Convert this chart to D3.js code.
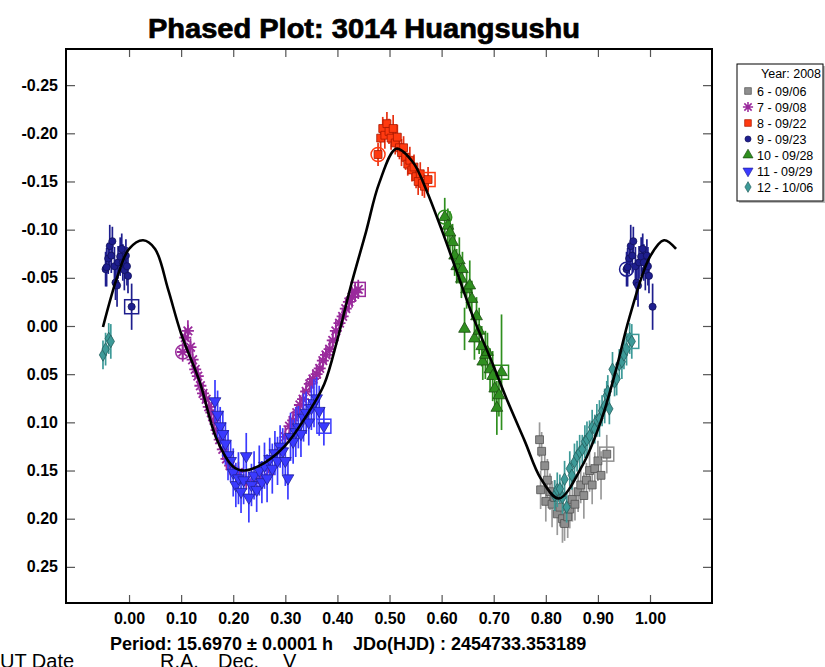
<!DOCTYPE html>
<html>
<head>
<meta charset="utf-8">
<script src="https://cdn.jsdelivr.net/npm/d3@7"></script>
<style>
  body { margin: 0; background: #fff; }
  svg { display: block; font-family: "Liberation Sans", Arial, sans-serif; }
</style>
</head>
<body>
<svg id="chart" width="825" height="667"></svg>
<script>
var xTicks = [0.00, 0.10, 0.20, 0.30, 0.40, 0.50, 0.60, 0.70, 0.80, 0.90, 1.00];
var yTicks = [-0.25, -0.20, -0.15, -0.10, -0.05, 0.00, 0.05, 0.10, 0.15, 0.20, 0.25];

var sessions = ["6 - 09/06", "7 - 09/08", "8 - 09/22", "9 - 09/23", "10 - 09/28", "11 - 09/29", "12 - 10/06"];

// [phase, mag, error]
var s6 = [[0.788,0.118,0.018],[0.790,0.170,0.020],[0.792,0.130,0.020],[0.798,0.145,0.017],[0.800,0.182,0.021],
  [0.803,0.160,0.022],[0.808,0.172,0.019],[0.812,0.185,0.024],[0.817,0.178,0.018],[0.822,0.195,0.022],
  [0.827,0.188,0.020],[0.832,0.200,0.025],[0.836,0.205,0.018],[0.842,0.198,0.022],[0.846,0.190,0.020],
  [0.851,0.180,0.023],[0.856,0.185,0.017],[0.862,0.172,0.021],[0.867,0.165,0.019],[0.873,0.176,0.024],
  [0.878,0.160,0.018],[0.884,0.150,0.022],[0.889,0.165,0.020],[0.894,0.148,0.017],[0.900,0.140,0.021],
  [0.906,0.155,0.025],[0.917,0.133,0.020]];

var s7 = [[0.103,0.027,0.010],[0.108,0.012,0.010],[0.113,0.005,0.011],[0.118,0.022,0.009],[0.122,0.035,0.010],
  [0.127,0.045,0.010],[0.132,0.052,0.009],[0.137,0.062,0.011],[0.142,0.070,0.010],[0.148,0.076,0.009],
  [0.153,0.084,0.010],[0.158,0.090,0.011],[0.163,0.098,0.010],[0.168,0.108,0.009],[0.174,0.118,0.010],
  [0.180,0.128,0.011],[0.187,0.138,0.010],[0.194,0.145,0.010],[0.210,0.152,0.011],[0.225,0.160,0.010],
  [0.240,0.163,0.010],[0.255,0.158,0.011],[0.270,0.150,0.010],[0.290,0.128,0.010],[0.300,0.115,0.011],
  [0.308,0.104,0.010],[0.315,0.098,0.010],[0.322,0.090,0.009],[0.328,0.082,0.010],[0.334,0.076,0.011],
  [0.340,0.068,0.010],[0.347,0.060,0.009],[0.353,0.055,0.010],[0.360,0.050,0.010],[0.366,0.044,0.011],
  [0.372,0.036,0.010],[0.378,0.030,0.009],[0.385,0.024,0.010],[0.391,0.015,0.010],[0.397,0.005,0.011],
  [0.404,-0.003,0.010],[0.410,-0.010,0.009],[0.416,-0.018,0.010],[0.422,-0.025,0.010],[0.428,-0.030,0.011],
  [0.434,-0.035,0.010],[0.440,-0.038,0.010]];

var s8 = [[0.478,-0.178,0.012],[0.483,-0.195,0.013],[0.487,-0.205,0.012],[0.491,-0.198,0.014],[0.495,-0.210,0.012],
  [0.499,-0.202,0.013],[0.503,-0.195,0.012],[0.507,-0.205,0.014],[0.511,-0.190,0.012],[0.515,-0.196,0.013],
  [0.519,-0.185,0.012],[0.523,-0.180,0.014],[0.527,-0.185,0.012],[0.531,-0.175,0.013],[0.535,-0.168,0.012],
  [0.539,-0.172,0.014],[0.543,-0.162,0.012],[0.547,-0.165,0.013],[0.551,-0.155,0.012],[0.555,-0.150,0.014],
  [0.559,-0.158,0.012],[0.563,-0.148,0.013],[0.567,-0.145,0.012],[0.574,-0.152,0.013]];

var s9 = [[0.955,-0.059,0.018],[0.957,-0.061,0.020],[0.960,-0.070,0.016],[0.963,-0.083,0.022],[0.966,-0.073,0.018],
  [0.968,-0.088,0.015],[0.972,-0.062,0.020],[0.974,-0.045,0.018],[0.977,-0.042,0.022],[0.979,-0.066,0.017],
  [0.983,-0.072,0.020],[0.986,-0.080,0.016],[0.988,-0.066,0.019],[0.991,-0.058,0.021],[0.994,-0.073,0.017],
  [0.996,-0.062,0.020],[0.998,-0.052,0.018],[0.005,-0.020,0.024]];

var s10 = [[0.606,-0.113,0.020],[0.612,-0.104,0.018],[0.616,-0.097,0.022],[0.621,-0.087,0.019],[0.625,-0.073,0.021],
  [0.629,-0.062,0.018],[0.634,-0.068,0.024],[0.638,-0.049,0.020],[0.640,-0.059,0.018],[0.644,0.003,0.022],
  [0.648,-0.038,0.020],[0.654,-0.042,0.026],[0.658,-0.028,0.019],[0.663,0.013,0.022],[0.667,-0.010,0.020],
  [0.672,0.005,0.024],[0.677,0.021,0.021],[0.679,0.037,0.019],[0.684,0.030,0.025],[0.688,0.027,0.020],
  [0.693,0.045,0.022],[0.698,0.052,0.026],[0.702,0.065,0.020],[0.706,0.085,0.028],[0.710,0.072,0.022],
  [0.715,0.048,0.060]];

var s11 = [[0.165,0.078,0.022],[0.170,0.092,0.025],[0.175,0.104,0.020],[0.180,0.112,0.024],[0.185,0.122,0.022],
  [0.190,0.134,0.026],[0.195,0.140,0.021],[0.200,0.152,0.025],[0.205,0.165,0.023],[0.210,0.158,0.027],
  [0.215,0.172,0.022],[0.220,0.160,0.025],[0.225,0.135,0.024],[0.230,0.178,0.026],[0.235,0.165,0.022],
  [0.240,0.155,0.025],[0.245,0.170,0.023],[0.250,0.150,0.026],[0.255,0.162,0.022],[0.260,0.145,0.024],
  [0.265,0.158,0.025],[0.270,0.138,0.022],[0.275,0.148,0.026],[0.280,0.132,0.023],[0.285,0.140,0.025],
  [0.290,0.125,0.022],[0.295,0.130,0.024],[0.300,0.140,0.026],[0.305,0.158,0.022],[0.310,0.115,0.025],
  [0.315,0.120,0.023],[0.320,0.110,0.026],[0.325,0.105,0.022],[0.330,0.112,0.024],[0.335,0.095,0.025],
  [0.340,0.090,0.022],[0.345,0.100,0.024],[0.350,0.085,0.023],[0.355,0.080,0.025],[0.360,0.075,0.022],
  [0.365,0.088,0.026],[0.374,0.104,0.020]];

var s12 = [[0.817,0.176,0.016],[0.822,0.170,0.018],[0.827,0.169,0.015],[0.832,0.178,0.017],[0.836,0.159,0.019],
  [0.840,0.188,0.016],[0.846,0.148,0.018],[0.850,0.155,0.015],[0.855,0.141,0.019],[0.860,0.135,0.016],
  [0.865,0.131,0.018],[0.870,0.128,0.015],[0.875,0.120,0.017],[0.879,0.118,0.019],[0.884,0.114,0.016],
  [0.889,0.105,0.018],[0.894,0.107,0.015],[0.898,0.098,0.017],[0.903,0.096,0.019],[0.908,0.088,0.016],
  [0.913,0.083,0.018],[0.917,0.072,0.015],[0.919,0.068,0.017],[0.922,0.086,0.016],[0.928,0.045,0.018],
  [0.932,0.058,0.015],[0.936,0.055,0.017],[0.941,0.040,0.016],[0.946,0.037,0.018],[0.950,0.030,0.015],
  [0.955,0.024,0.017],[0.961,0.013,0.016],[0.965,0.016,0.018]];

var fitPhase = [-0.05, -0.022, 0.00, 0.027, 0.05, 0.075, 0.10, 0.135, 0.168, 0.20, 0.222, 0.26, 0.30, 0.35, 0.375,
  0.40, 0.425, 0.455, 0.48, 0.513, 0.545, 0.57, 0.60, 0.63, 0.66, 0.70, 0.725, 0.76, 0.79, 0.825, 0.87, 0.905,
  0.935, 0.96, 1.00, 1.027, 1.05];
var fitMag = [0.001, -0.052, -0.080, -0.089, -0.080, -0.038, 0.008, 0.057, 0.117, 0.146, 0.150, 0.142, 0.124, 0.085, 0.060,
  0.014, -0.040, -0.098, -0.148, -0.184, -0.170, -0.142, -0.100, -0.055, -0.010, 0.042, 0.076, 0.120, 0.158, 0.179, 0.145, 0.100,
  0.045, -0.008, -0.072, -0.089, -0.080];

var seriesData = [s6, s7, s8, s9, s10, s11, s12];
var styles = [
  { fill: "#8e8e8e", stroke: "#505050", bar: "#9a9a9a", shape: "square", ring: false },
  { fill: "#9a2a9c", stroke: "#9a2a9c", bar: "#9a2a9c", shape: "star", ring: true },
  { fill: "#ff3a10", stroke: "#a81800", bar: "#e83010", shape: "square", ring: true },
  { fill: "#1e1e8e", stroke: "#10105a", bar: "#1e1e8e", shape: "circle", ring: true },
  { fill: "#2f8f1f", stroke: "#1c4c10", bar: "#2f8f1f", shape: "triUp", ring: true },
  { fill: "#3a3aff", stroke: "#20209a", bar: "#3a3aff", shape: "triDown", ring: false },
  { fill: "#3d9a98", stroke: "#23605e", bar: "#3d9a98", shape: "diamond", ring: false }
];

var margin = { top: 49, left: 66 },
    width = 646,
    height = 554;

var svg = d3.select("#chart");
var g = svg.append("g").attr("transform", "translate(" + margin.left + "," + margin.top + ")");

var xScale = d3.scaleLinear().domain([-0.121, 1.119]).range([0, width]);
var yScale = d3.scaleLinear().domain([-0.2875, 0.2875]).range([0, height]);

var fmt = function(d) { return d.toFixed(2); };

// axes, ticks inside on all four sides
g.append("g").attr("class", "ax").attr("transform", "translate(0," + height + ")")
  .call(d3.axisBottom(xScale).tickValues(xTicks).tickSizeInner(-8).tickSizeOuter(0).tickPadding(10).tickFormat(fmt));
g.append("g").attr("class", "ax")
  .call(d3.axisTop(xScale).tickValues(xTicks).tickSizeInner(-8).tickSizeOuter(0).tickFormat(""));
g.append("g").attr("class", "ax")
  .call(d3.axisLeft(yScale).tickValues(yTicks).tickSizeInner(-9).tickSizeOuter(0).tickPadding(8).tickFormat(fmt));
g.append("g").attr("class", "ax").attr("transform", "translate(" + width + ",0)")
  .call(d3.axisRight(yScale).tickValues(yTicks).tickSizeInner(-9).tickSizeOuter(0).tickFormat(""));

g.selectAll(".ax .domain").remove();
g.selectAll(".ax line").attr("stroke", "#555").attr("stroke-width", 1.2);
g.selectAll(".ax text").attr("fill", "#000").style("font-size", "16px").style("font-weight", "bold")
  .style("font-family", "'Liberation Sans', Arial, sans-serif");

g.append("rect").attr("width", width).attr("height", height)
  .attr("fill", "none").attr("stroke", "#000").attr("stroke-width", 2);

// marker shapes
function shapePath(shape) {
  if (shape === "star") {
    return "M-6,0L6,0M0,-6L0,6M-4.3,-4.3L4.3,4.3M-4.3,4.3L4.3,-4.3";
  }
  var type = { square: d3.symbolSquare, circle: d3.symbolCircle, triUp: d3.symbolTriangle,
               triDown: d3.symbolTriangle, diamond: d3.symbolDiamond }[shape];
  var size = { square: 62, circle: 40, triUp: 60, triDown: 60, diamond: 46 }[shape];
  return d3.symbol().type(type).size(size)();
}

function wrapped(p) {
  var out = [p];
  if (p >= 0.95) out.push(p - 1);
  if (p < 0.05) out.push(p + 1);
  return out;
}

seriesData.forEach(function(data, si) {
  var st = styles[si];
  var pts = [];
  data.forEach(function(d) {
    wrapped(d[0]).forEach(function(p) { pts.push({ p: p, m: d[1], e: d[2] }); });
  });
  var sg = g.append("g");
  sg.selectAll("line.err").data(pts).enter().append("line")
    .attr("x1", function(d) { return xScale(d.p); })
    .attr("x2", function(d) { return xScale(d.p); })
    .attr("y1", function(d) { return yScale(d.m - d.e); })
    .attr("y2", function(d) { return yScale(d.m + d.e); })
    .attr("stroke", st.bar).attr("stroke-width", 1.7);
  sg.selectAll("path.mk").data(pts).enter().append("path")
    .attr("d", shapePath(st.shape))
    .attr("transform", function(d) {
      return "translate(" + xScale(d.p) + "," + yScale(d.m) + ")" + (st.shape === "triDown" ? " rotate(180)" : "");
    })
    .attr("fill", st.shape === "star" ? "none" : st.fill)
    .attr("stroke", st.stroke)
    .attr("stroke-width", st.shape === "star" ? 1.8 : 0.8);

  // first observation: open circle, last observation: open square
  var first = data[0], last = data[data.length - 1];
  if (st.ring) {
    sg.append("circle")
      .attr("cx", xScale(first[0])).attr("cy", yScale(first[1])).attr("r", 7)
      .attr("fill", "none").attr("stroke", st.fill).attr("stroke-width", 1.5);
  }
  sg.append("rect")
    .attr("x", xScale(last[0]) - 7).attr("y", yScale(last[1]) - 7)
    .attr("width", 14).attr("height", 14)
    .attr("fill", "none").attr("stroke", st.fill).attr("stroke-width", 1.5);
});

// fitted curve
var fit = fitPhase.map(function(p, i) { return [p, fitMag[i]]; });
g.append("path").datum(fit)
  .attr("fill", "none").attr("stroke", "#000").attr("stroke-width", 2.6)
  .attr("d", d3.line()
    .x(function(d) { return xScale(d[0]); })
    .y(function(d) { return yScale(d[1]); })
    .curve(d3.curveCatmullRom.alpha(0.5)));

// title
svg.append("text").attr("x", 364).attr("y", 38).attr("text-anchor", "middle")
  .attr("textLength", 432).attr("lengthAdjust", "spacingAndGlyphs")
  .attr("stroke", "#000").attr("stroke-width", 0.7)
  .style("font-size", "27px").style("font-weight", "bold")
  .text("Phased Plot: 3014 Huangsushu");

// legend
var lg = svg.append("g").attr("transform", "translate(737,64)");
lg.append("rect").attr("x", 2).attr("y", 2).attr("width", 86).attr("height", 137).attr("fill", "#bbb");
lg.append("rect").attr("width", 86).attr("height", 137).attr("fill", "#fff").attr("stroke", "#000").attr("stroke-width", 1);
lg.append("text").attr("x", 84).attr("y", 14).attr("text-anchor", "end")
  .style("font-size", "12.5px").text("Year: 2008");
sessions.forEach(function(name, i) {
  var st = styles[i];
  var yy = 27 + i * 16;
  lg.append("path").attr("d", shapePath(st.shape))
    .attr("transform", "translate(11," + yy + ") scale(0.85)" + (st.shape === "triDown" ? " rotate(180)" : ""))
    .attr("fill", st.shape === "star" ? "none" : st.fill)
    .attr("stroke", st.stroke).attr("stroke-width", st.shape === "star" ? 1.8 : 0.8);
  lg.append("text").attr("x", 20).attr("y", yy + 4.5)
    .style("font-size", "12.5px").text(name);
});

// footer
svg.append("text").attr("x", 110).attr("y", 650)
  .style("font-size", "18px").style("font-weight", "bold")
  .attr("xml:space", "preserve")
  .text("Period: 15.6970 \u00b1 0.0001 h    JDo(HJD) : 2454733.353189");
var foot = [["UT Date", 0], ["R.A.", 160], ["Dec.", 218], ["V", 283]];
foot.forEach(function(f) {
  svg.append("text").attr("x", f[1]).attr("y", 668).style("font-size", "20px").text(f[0]);
});
</script>
</body>
</html>
